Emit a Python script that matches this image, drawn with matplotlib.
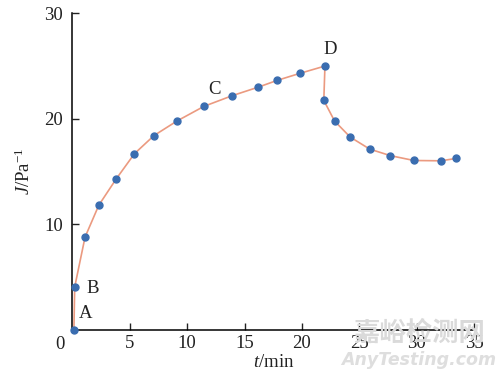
import matplotlib.pyplot as plt

# creep / recovery data
t_min = [0.13, 0.2, 1.1, 2.3, 3.8, 5.4, 7.1, 9.1, 11.45, 13.9, 16.2, 17.84,
         19.8, 22.0, 21.9, 22.84, 24.2, 25.9, 27.7, 29.75, 32.1, 33.4]
J = [0.0, 4.05, 8.77, 11.8, 14.27, 16.68, 18.4, 19.78, 21.17, 22.18, 23.0,
     23.64, 24.3, 25.0, 21.74, 19.78, 18.26, 17.12, 16.5, 16.04, 16.01, 16.23]
point_labels = ['A', 'B', 'C', 'D']
label_pos = [(0.6, 0.75), (1.2, 3.1), (11.8, 22.0), (21.9, 25.8)]
x_ticks = [5, 10, 15, 20, 25, 30, 35]
y_ticks = [10, 20, 30]

plt.rcParams['font.family'] = ['Liberation Serif', 'DejaVu Serif']
plt.rcParams['mathtext.fontset'] = 'custom'
plt.rcParams['mathtext.it'] = 'Liberation Serif:italic'
plt.rcParams['mathtext.rm'] = 'Liberation Serif'

fig = plt.figure(figsize=(4.96, 3.77), dpi=100)
ax = fig.add_axes([0.146, 0.1257, 0.81, 0.839])

ax.plot(t_min, J, color='#eb9a80', lw=1.2, zorder=2)
ax.plot(t_min, J, 'o', color='#3a6db0', ms=5, mec='#3a6db0', zorder=3,
        clip_on=False)

for lab, (px, py) in zip(point_labels, label_pos):
    ax.text(px, py, lab, fontsize=13.5, ha='left', va='bottom', color='#222222')

ax.set_xlim(0, 35)
ax.set_ylim(0, 30)
ax.set_xticks(x_ticks)
ax.set_yticks(y_ticks)
ax.tick_params(direction='in', length=5, width=1, labelsize=13.5,
               colors='#222222')
ax.tick_params(axis='y', pad=7)
ax.tick_params(axis='x', pad=4)
ax.text(-1.1, -0.65, '0', fontsize=13.5, ha='center', va='top',
        color='#222222')
for s in ['top', 'right']:
    ax.spines[s].set_visible(False)
for s in ['left', 'bottom']:
    ax.spines[s].set_linewidth(1.1)

ax.set_xlabel('$t$/min', fontsize=13.5, labelpad=1, color='#222222')
ax.set_ylabel('$J$/Pa$^{-1}$', fontsize=13.5, labelpad=7, color='#222222')

# watermark
fig.text(0.845, 0.115, '嘉峪检测网', fontsize=19, color='#dadada',
         ha='center', va='center', family=['Noto Sans CJK SC', 'DejaVu Sans'],
         fontweight='bold', zorder=0)
fig.text(0.845, 0.045, 'AnyTesting.com', fontsize=12.5, color='#dedede',
         ha='center', va='center', family='DejaVu Sans', style='italic',
         fontweight='bold')

fig.savefig('out.png', dpi=100)
